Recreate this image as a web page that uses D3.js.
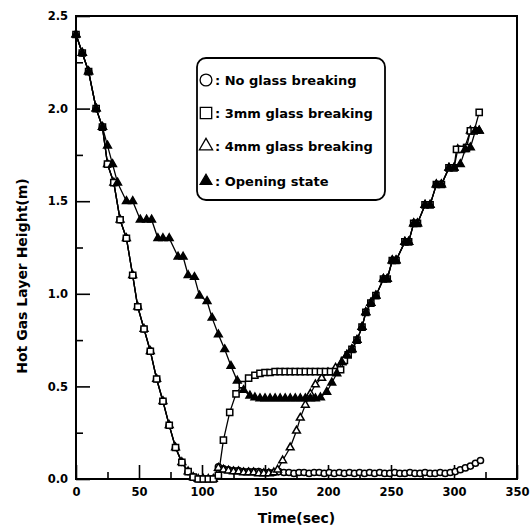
<!DOCTYPE html>
<html>
<head>
<meta charset="utf-8">
<script src="https://cdn.jsdelivr.net/npm/d3@7"></script>
<style>
  body { margin: 0; background: #fff; }
  svg { display: block; }
  text { font-family: "DejaVu Sans", sans-serif; font-weight: bold; fill: #000; }
</style>
</head>
<body>
<div id="wrapper"></div>
<script>
// values: [time (s), height (m)]
const fallShared = [[0,2.40],[5,2.30],[10,2.20],[16,2.00],[21,1.90],[25,1.70],[30,1.60],[35,1.40],[40,1.30],
  [45,1.10],[49,0.93],[54,0.81],[59,0.69],[64,0.54],[69,0.42],[74,0.29],[79,0.17],[84,0.09],[89,0.04],
  [93,0.01],[97,0.00],[101,0.00],[105,0.00],[109,0.00]];

const riseShared = [[219,0.70],[223,0.75],[227,0.82],[230,0.90],[234,0.95],[238,0.99],[244,1.08],[247,1.08],
  [251,1.18],[254,1.18],[261,1.28],[264,1.28],[268,1.38],[271,1.38],[277,1.48],[281,1.48],[286,1.59],
  [290,1.59],[296,1.68],[300,1.68]];

const noGlassTail = [[113,0.065],[117,0.055],[121,0.05],[125,0.045],[129,0.045],[133,0.04],[137,0.04],
  [141,0.04],[145,0.04],[149,0.035],[153,0.035],[157,0.035],[161,0.04],[165,0.035],[169,0.035],[173,0.03],
  [177,0.035],[181,0.035],[185,0.03],[189,0.035],[193,0.035],[197,0.03],[201,0.035],[205,0.03],[209,0.035],
  [213,0.03],[217,0.035],[221,0.03],[225,0.035],[229,0.03],[233,0.035],[237,0.03],[241,0.035],[245,0.03],
  [249,0.03],[253,0.035],[257,0.03],[261,0.03],[265,0.035],[269,0.03],[273,0.03],[277,0.035],[281,0.03],
  [285,0.03],[289,0.035],[293,0.03],[297,0.035],[301,0.04],[305,0.05],[309,0.06],[313,0.07],[317,0.085],
  [321,0.10]];

const glass3Tail = [[113,0.02],[117,0.21],[122,0.36],[127,0.46],[132,0.51],[137,0.545],[142,0.56],[146,0.57],
  [150,0.575],[154,0.575],[158,0.58],[162,0.58],[166,0.58],[170,0.58],[174,0.58],[178,0.58],[182,0.58],
  [186,0.58],[190,0.58],[194,0.58],[198,0.58],[202,0.58],[206,0.58],[210,0.59],[213,0.64],[216,0.67]];
const glass3Top = [[302,1.78],[306,1.78],[310,1.79],[313,1.88],[316,1.88],[320,1.98]];

const glass4Tail = [[113,0.06],[117,0.05],[121,0.045],[125,0.04],[129,0.04],[133,0.035],[137,0.035],
  [141,0.035],[145,0.03],[149,0.03],[153,0.03],[157,0.035],[160,0.05],[164,0.10],[170,0.17],[175,0.26],
  [178,0.33],[182,0.40],[186,0.46],[190,0.51],[195,0.545],[200,0.575],[206,0.60],[211,0.63],[215,0.67]];
const glass4Top = [[303,1.78],[308,1.78],[313,1.88],[317,1.88],[320,1.88]];

const openingHead = [[0,2.40],[5,2.30],[10,2.20],[16,2.00],[21,1.90],[25,1.80],[29,1.70],[33,1.60],[40,1.50],
  [45,1.50],[51,1.40],[56,1.40],[60,1.40],[65,1.30],[69,1.30],[74,1.30],[81,1.20],[85,1.20],[89,1.10],
  [94,1.09],[98,0.99],[104,0.96],[108,0.87],[113,0.78],[118,0.70],[123,0.61],[128,0.53],[133,0.48],
  [138,0.45],[142,0.44],[146,0.435],[150,0.435],[154,0.435],[158,0.435],[162,0.435],[166,0.435],[170,0.435],
  [174,0.435],[178,0.435],[182,0.435],[186,0.435],[190,0.435],[194,0.44],[199,0.47],[203,0.52],[207,0.57],
  [211,0.63],[215,0.67]];
const openingTop = [[305,1.70],[309,1.78],[313,1.79],[317,1.88],[320,1.88]];

const xTicks = [0, 50, 100, 150, 200, 250, 300, 350];
const yTicks = [0, 0.5, 1.0, 1.5, 2.0, 2.5];

const series = [
  { name: ": No glass breaking", data: fallShared.concat(noGlassTail), symbol: d3.symbolCircle, size: 30, fill: "#fff", legendSize: 110, order: 0 },
  { name: ": 3mm glass breaking", data: fallShared.concat(glass3Tail, riseShared, glass3Top), symbol: d3.symbolSquare, size: 38, fill: "#fff", legendSize: 130, order: 2 },
  { name: ": 4mm glass breaking", data: fallShared.concat(glass4Tail, riseShared, glass4Top), symbol: d3.symbolTriangle, size: 26, fill: "#fff", legendSize: 75, order: 1 },
  { name: ": Opening state", data: openingHead.concat(riseShared, openingTop), symbol: d3.symbolTriangle, size: 26, fill: "#000", legendSize: 60, order: 3 }
];

const width = 531, height = 532;
const margin = { top: 16, right: 14, bottom: 53, left: 76 };

const svg = d3.select("#wrapper").append("svg")
  .attr("width", width)
  .attr("height", height);

const xScale = d3.scaleLinear().domain([0, 350]).range([margin.left, width - margin.right]);
const yScale = d3.scaleLinear().domain([0, 2.5]).range([height - margin.bottom, margin.top]);

// minor ticks (inward)
svg.append("g")
  .attr("transform", `translate(${margin.left},0)`)
  .call(d3.axisLeft(yScale).tickValues(d3.range(0.25, 2.5, 0.5)).tickSize(-7).tickFormat(""))
  .call(g => g.select(".domain").remove());
svg.append("g")
  .attr("transform", `translate(0,${height - margin.bottom})`)
  .call(d3.axisBottom(xScale).tickValues(d3.range(25, 350, 50)).tickSize(-7).tickFormat(""))
  .call(g => g.select(".domain").remove());

// major ticks
svg.append("g")
  .attr("transform", `translate(${margin.left},0)`)
  .call(d3.axisLeft(yScale).tickValues(yTicks).tickSize(-14).tickPadding(8).tickFormat(d3.format(".1f")))
  .call(g => g.select(".domain").remove())
  .call(g => g.selectAll("text").style("font-size", "11.5px").style("font-family", "DejaVu Sans").style("font-weight", "bold"));
svg.append("g")
  .attr("transform", `translate(0,${height - margin.bottom})`)
  .call(d3.axisBottom(xScale).tickValues(xTicks).tickSize(-14).tickPadding(9))
  .call(g => g.select(".domain").remove())
  .call(g => g.selectAll("text").style("font-size", "11.5px").style("font-family", "DejaVu Sans").style("font-weight", "bold"));

svg.selectAll(".tick line").attr("stroke", "#000").attr("stroke-width", 1.6);

// frame
svg.append("rect")
  .attr("x", xScale(0))
  .attr("y", yScale(2.5))
  .attr("width", xScale(350) - xScale(0))
  .attr("height", yScale(0) - yScale(2.5))
  .attr("fill", "none")
  .attr("stroke", "#000")
  .attr("stroke-width", 2);

const line = d3.line()
  .x(d => xScale(d[0]))
  .y(d => yScale(d[1]));

series.forEach(s => {
  svg.append("path")
    .datum(s.data)
    .attr("d", line)
    .attr("fill", "none")
    .attr("stroke", "#000")
    .attr("stroke-width", 1.3);
});

series.slice().sort((a, b) => a.order - b.order).forEach(s => {
  svg.append("g").selectAll("path")
    .data(s.data)
    .join("path")
    .attr("transform", d => `translate(${xScale(d[0])},${yScale(d[1])})`)
    .attr("d", d3.symbol().type(s.symbol).size(s.size))
    .attr("fill", s.fill)
    .attr("stroke", "#000")
    .attr("stroke-width", 1.5);
});

// legend
const legend = svg.append("g");
legend.append("rect")
  .attr("x", 197).attr("y", 58)
  .attr("width", 188).attr("height", 142)
  .attr("rx", 9)
  .attr("fill", "#fff")
  .attr("stroke", "#000")
  .attr("stroke-width", 1.8);

const legendRows = [80, 113, 146, 181];
series.forEach((s, i) => {
  legend.append("path")
    .attr("transform", `translate(206,${legendRows[i]})`)
    .attr("d", d3.symbol().type(s.symbol).size(s.legendSize))
    .attr("fill", s.fill)
    .attr("stroke", "#000")
    .attr("stroke-width", 1.3);
  legend.append("text")
    .attr("x", 215)
    .attr("y", legendRows[i] + 4.5)
    .style("font-size", "13px")
    .text(s.name);
});

// axis titles
svg.append("text")
  .attr("x", (xScale(0) + xScale(350)) / 2)
  .attr("y", 523)
  .attr("text-anchor", "middle")
  .style("font-size", "14px")
  .text("Time(sec)");

svg.append("text")
  .attr("transform", "translate(27,276) rotate(-90)")
  .attr("text-anchor", "middle")
  .style("font-size", "14px")
  .text("Hot Gas Layer Height(m)");
</script>
</body>
</html>
